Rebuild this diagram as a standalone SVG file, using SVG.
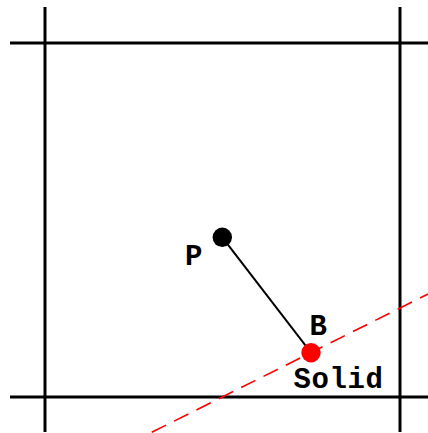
<svg xmlns="http://www.w3.org/2000/svg" width="428" height="433" viewBox="0 0 428 433">
<style>
.grid{stroke:#000;stroke-width:3;fill:none}
.seg{stroke:#000;stroke-width:2;fill:none}
.boundary{stroke:#ff0000;stroke-width:1.6;stroke-dasharray:16,9;fill:none}
.lbl{font-family:"Liberation Mono","Courier New",monospace;font-weight:bold;font-size:29px;fill:#000}
</style>
<rect width="428" height="433" fill="#fff"/>
<g id="grid">
<line class="grid" x1="45" y1="7" x2="45" y2="432"/>
<line class="grid" x1="400" y1="7" x2="400" y2="432"/>
<line class="grid" x1="10" y1="43" x2="428" y2="43"/>
<line class="grid" x1="10" y1="397" x2="428" y2="397"/>
</g>
<g id="connectors">
<line class="seg" x1="222.3" y1="237.3" x2="311" y2="352.7"/>
<line class="boundary" x1="151.7" y1="432.3" x2="428" y2="294"/>
</g>
<g id="P">
<circle cx="222.3" cy="237.3" r="9.7" fill="#000"/>
<text class="lbl" x="185" y="265">P</text>
</g>
<g id="B">
<circle cx="311" cy="352.7" r="9.7" fill="#ff0000"/>
<text class="lbl" x="309.5" y="335">B</text>
<text class="lbl" x="293.5" y="388.3" letter-spacing="0.6">Solid</text>
</g>
</svg>
